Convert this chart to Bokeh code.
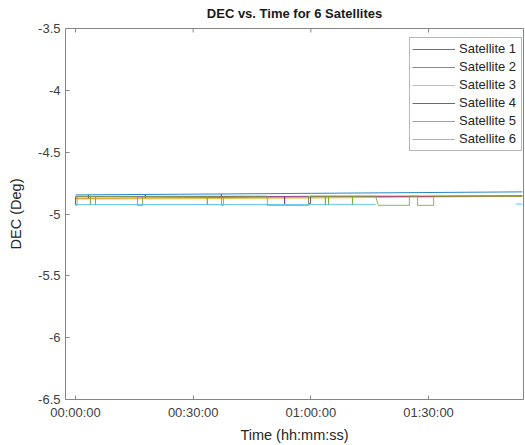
from bokeh.plotting import figure
from bokeh.models import FixedTicker, Range1d
from bokeh.embed import file_html
from bokeh.resources import INLINE

nan = float("nan")

# time in minutes from start
x_tick_values = [0, 30, 60, 90]
x_tick_labels = ["00:00:00", "00:30:00", "01:00:00", "01:30:00"]
y_tick_values = [-6.5, -6, -5.5, -5, -4.5, -4, -3.5]
y_tick_labels = ["-6.5", "-6", "-5.5", "-5", "-4.5", "-4", "-3.5"]
y_top = -3.5

sat_names = ["Satellite 1", "Satellite 2", "Satellite 3", "Satellite 4", "Satellite 5", "Satellite 6"]
sat_colors = ["#0072BD", "#D95319", "#EDB120", "#7E2F8E", "#77AC30", "#4DBEEE"]

sat1_t = [0, 3.3, 3.3, 3.3, 17.8, 17.8, 17.8, 37.2, 37.2, 37.2, 113.9]
sat1_v = [-4.846, -4.845, -4.872, -4.845, -4.842, -4.868, -4.842, -4.838, -4.872, -4.838, -4.821]

sat2_t = [0, 27.5, 113.9]
sat2_v = [-4.874, -4.868, -4.855]

sat3_t = [0, 27.5, 60, 113.9]
sat3_v = [-4.878, -4.876, -4.871, -4.857]

sat4_t = [0, 0, 0.3, 0.3, 53.3, 53.3, 53.3, 59.4, 59.4, 59.9, 59.9, 113.9]
sat4_v = [-4.926, -4.860, -4.860, -4.860, -4.858, -4.918, -4.858, -4.857, -4.915, -4.915, -4.857, -4.854]

sat5_t = [0, 0.4, 0.4, 3.8, 3.8, 3.8, 5.1, 5.1, 5.1, 15.8, 15.8, 17.1, 17.1,
          33.6, 33.6, 33.6, 37.2, 37.2, 37.7, 37.7, 48.9, 48.9, 59.4, 59.4,
          63.7, 63.7, 63.7, 64.5, 64.5, 64.5, 70.6, 70.6, 70.6, 76.5, 77.2,
          85.1, 85.1, 87.2, 87.2, 91.3, 91.3, 113.9]
sat5_v = [-4.930, -4.930, -4.857, -4.857, -4.928, -4.857, -4.857, -4.928, -4.857, -4.857, -4.930, -4.930, -4.857,
          -4.856, -4.928, -4.856, -4.856, -4.930, -4.930, -4.856, -4.856, -4.930, -4.930, -4.856,
          -4.856, -4.928, -4.856, -4.856, -4.928, -4.856, -4.856, -4.928, -4.856, -4.856, -4.930,
          -4.930, -4.856, -4.856, -4.930, -4.930, -4.856, -4.855]

sat6_t = [0, 40, 76.5, 76.6, 112.2, 113.9]
sat6_v = [-4.924, -4.923, -4.922, nan, -4.920, -4.920]

series_t = [sat1_t, sat2_t, sat3_t, sat4_t, sat5_t, sat6_t]
series_v = [sat1_v, sat2_v, sat3_v, sat4_v, sat5_v, sat6_v]

FONT = "Liberation Sans"
AX = "#868686"
TXT = "#404040"

p = figure(frame_width=458, frame_height=371,
           x_range=Range1d(-2.55, 114.2), y_range=Range1d(-6.5, -3.5),
           output_backend="svg", toolbar_location=None,
           min_border_left=65, min_border_right=2, min_border_top=28, min_border_bottom=46,
           title="DEC vs. Time for 6 Satellites")

p.title.text_font = FONT
p.title.text_font_size = "13px"
p.title.text_font_style = "bold"
p.title.text_color = "#1a1a1a"
p.title.align = "center"
p.title.vertical_align = "top"
p.title.standoff = 11

p.xgrid.visible = False
p.ygrid.visible = False
p.outline_line_color = AX
p.outline_line_width = 1
p.background_fill_color = "white"
p.border_fill_color = "white"

for t, v, c, n in zip(series_t, series_v, sat_colors, sat_names):
    p.line(t, v, line_color=c, line_width=1, line_alpha=0.85, legend_label=n)

# inward tick marks on the top edge of the box
p.ray(x=x_tick_values, y=[y_top] * len(x_tick_values), length=4, length_units="screen",
      angle=-90, angle_units="deg", line_color=AX, line_width=1)

for ax in (p.xaxis[0], p.yaxis[0]):
    ax.axis_line_color = AX
    ax.major_tick_line_color = AX
    ax.major_tick_in = 4
    ax.major_tick_out = 0
    ax.minor_tick_line_color = None
    ax.major_label_text_font = FONT
    ax.major_label_text_font_size = "13px"
    ax.major_label_text_color = TXT
    ax.axis_label_text_font = FONT
    ax.axis_label_text_font_size = "14.5px"
    ax.axis_label_text_font_style = "normal"
    ax.axis_label_text_color = "#262626"

p.xaxis[0].ticker = FixedTicker(ticks=x_tick_values)
p.xaxis[0].major_label_overrides = dict(zip(x_tick_values, x_tick_labels))
p.xaxis[0].axis_label = "Time (hh:mm:ss)"
p.xaxis[0].major_label_standoff = 5
p.xaxis[0].axis_label_standoff = 4

p.yaxis[0].ticker = FixedTicker(ticks=y_tick_values)
p.yaxis[0].major_label_overrides = dict(zip(y_tick_values, y_tick_labels))
p.yaxis[0].axis_label = "DEC (Deg)"
p.yaxis[0].major_label_standoff = 5
p.yaxis[0].axis_label_standoff = 11

lg = p.legend[0]
lg.location = (344, 248.5)
lg.padding = 2
lg.spacing = 0
lg.margin = 0
lg.label_height = 18
lg.glyph_height = 18
lg.glyph_width = 43
lg.label_width = 60
lg.label_standoff = 4
lg.label_text_font = FONT
lg.label_text_font_size = "13px"
lg.label_text_color = "#262626"
lg.border_line_color = "#6e6e6e"
lg.border_line_width = 1
lg.background_fill_alpha = 1

open("out.html", "w").write(file_html(p, INLINE))
